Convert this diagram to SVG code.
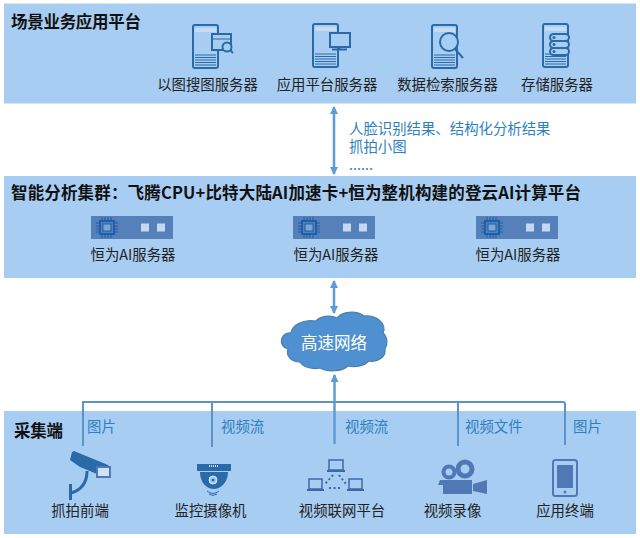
<svg xmlns="http://www.w3.org/2000/svg" width="640" height="538" viewBox="0 0 640 538">
<style>
text{font-family:"Noto Sans CJK SC","Liberation Sans",sans-serif}
.panel{fill:#a8cdf2}
.t{font-size:16.500px;font-weight:700;fill:#111}
.l{font-size:14.400px;fill:#222;text-anchor:middle}
.b{font-size:14.400px;fill:#2e7fbf}
.ic{fill:none;stroke:#2a6aa8;stroke-width:2}
.f{fill:#2a6aa8}
.f2{fill:#5078b4}
.wire{fill:none;stroke:#5d94c6;stroke-width:2}
.dbl{fill:none;stroke:#5f9bd3;stroke-width:2.500}
</style>
<defs>
<marker id="ah" viewBox="0 0 8 8" refX="7" refY="4" markerWidth="8" markerHeight="8" orient="auto-start-reverse" markerUnits="userSpaceOnUse"><path d="M0 0L8 4L0 8Z" fill="#5f9bd3"/></marker>
<g id="srv">
<rect x="1" y="1" width="25" height="43" rx="2" class="ic"/>
<rect x="3" y="4" width="21" height="4" fill="#c4dcf4"/>
<path d="M3 31H24M3 33.500H24M3 36H24M3 38.500H24M3 41H24" stroke="#2a6aa8" stroke-width="1" fill="none"/>
</g>
<g id="chip">
<rect width="82" height="23" fill="#5580ba"/>
<rect x="9" y="5" width="14" height="13" fill="none" stroke="#1d5fa8" stroke-width="2"/>
<rect x="12" y="8" width="8" height="7" fill="#7fa4d6" stroke="#1d5fa8"/>
<path d="M5 7H9M5 10H9M5 13H9M5 16H9M23 7H27M23 10H27M23 13H27M23 16H27M11 1V5M14 1V5M17 1V5M20 1V5M11 18V22M14 18V22M17 18V22M20 18V22" stroke="#1d5fa8" fill="none"/>
<rect x="50" y="7.500" width="8" height="8" fill="#c5d8f2"/>
<rect x="66" y="7.500" width="8" height="8" fill="#c5d8f2"/>
</g>
</defs>

<g id="connectors">
<path class="dbl" d="M334 107V174" marker-start="url(#ah)" marker-end="url(#ah)"/>
<path class="dbl" d="M334 281V313" marker-start="url(#ah)" marker-end="url(#ah)"/>
</g>

<g id="platform">
<rect class="panel" x="4" y="3.500" width="632" height="100"/>
<text class="t" x="11" y="28" textLength="130">场景业务应用平台</text>
<g id="srv-search"><use href="#srv" x="192" y="24"/>
<path d="M212 34H231V50H212Z" fill="#a8cdf2" stroke="#2a6aa8" stroke-width="2"/><path d="M212 39H231" stroke="#2a6aa8"/><circle cx="227" cy="47" r="4.500" fill="#a8cdf2" stroke="#2a6aa8" stroke-width="2"/><path d="M230 50L233 53" stroke="#2a6aa8" stroke-width="2"/>
<text class="l" x="207.500" y="90">以图搜图服务器</text></g>
<g id="srv-app"><use href="#srv" x="312" y="23"/>
<rect x="330" y="33" width="20" height="14" fill="#a8cdf2" stroke="#2a6aa8" stroke-width="2"/><path d="M339.500 47V49M332 49.500H347" stroke="#2a6aa8" stroke-width="2"/>
<text class="l" x="327" y="90">应用平台服务器</text></g>
<g id="srv-data"><use href="#srv" x="431" y="24"/>
<circle cx="449" cy="42" r="9" fill="#a8cdf2" stroke="#2a6aa8" stroke-width="2"/><path d="M455 49L463 58" stroke="#2a6aa8" stroke-width="2"/>
<text class="l" x="447.500" y="90">数据检索服务器</text></g>
<g id="srv-store"><use href="#srv" x="542" y="23"/>
<g fill="#a8cdf2" stroke="#2a6aa8" stroke-width="2"><rect x="550" y="34" width="19" height="7" rx="3.500"/><rect x="550" y="41" width="19" height="7" rx="3.500"/><rect x="550" y="48" width="19" height="7" rx="3.500"/></g>
<circle cx="554" cy="37.500" r="1.500" class="f"/><circle cx="554" cy="44.500" r="1.500" class="f"/><circle cx="554" cy="51.500" r="1.500" class="f"/>
<text class="l" x="557" y="90">存储服务器</text></g>
</g>

<g id="results">
<text class="b" x="349" y="134">人脸识别结果、结构化分析结果</text>
<text class="b" x="349" y="152">抓拍小图</text>
<text class="b" x="349" y="170">......</text>
</g>

<g id="cluster">
<rect class="panel" x="4" y="176" width="632" height="102"/>
<text class="t" x="11" y="199" textLength="570">智能分析集群：飞腾CPU+比特大陆AI加速卡+恒为整机构建的登云AI计算平台</text>
<g id="ai1"><use href="#chip" x="91" y="216"/><text class="l" x="133" y="260">恒为AI服务器</text></g>
<g id="ai2"><use href="#chip" x="293" y="216"/><text class="l" x="336" y="260">恒为AI服务器</text></g>
<g id="ai3"><use href="#chip" x="476" y="216"/><text class="l" x="518" y="260">恒为AI服务器</text></g>
</g>

<g id="collect">
<rect class="panel" x="4" y="411" width="632" height="123"/>
<text class="t" x="14" y="437" textLength="49">采集端</text>
<text class="b" x="87" y="432">图片</text>
<text class="b" x="221" y="432">视频流</text>
<text class="b" x="345" y="432">视频流</text>
<text class="b" x="465" y="432">视频文件</text>
<text class="b" x="573" y="432">图片</text>
<g id="cam"><path d="M72 452L70 460L80 467L97 474V467H109L108 465L74 451Z" class="f"/><rect x="97" y="467" width="13" height="10" fill="#cfe2f6" stroke="#5078b4" stroke-width="2"/><path d="M87 471C87 483 81 490 71 493" fill="none" stroke="#2a6aa8" stroke-width="3"/><path d="M70.500 484V500" stroke="#2a6aa8" stroke-width="3"/>
<text class="l" x="80" y="516">抓拍前端</text></g>
<g id="dome"><path d="M197 464H231V471H197Z" class="f"/><path d="M209 466H219" stroke="#cfe2f6" stroke-width="2" stroke-dasharray="1 1"/><path d="M200 472H228C228 483 220 489 214 489C207 489 200 483 200 472Z" class="f"/><circle cx="213" cy="480" r="4" fill="#a8cdf2" stroke="#cfe2f6"/><circle cx="213" cy="480" r="1.500" class="f"/><path d="M207 491Q213 496 219 491M209 494Q213 497 217 494" fill="none" stroke="#2a6aa8"/>
<text class="l" x="210.500" y="516">监控摄像机</text></g>
<g id="net"><g fill="none" stroke="#3c6aa8" stroke-width="1.500"><rect x="329" y="460" width="14" height="10"/><rect x="309" y="479" width="13" height="10"/><rect x="349" y="479" width="13" height="10"/></g>
<path d="M327 471H345M307 490H324M347 490H364" stroke="#3c6aa8" stroke-width="2"/><path d="M333 475L325 484M339 475L346 484M329 488H342" stroke="#3c6aa8" stroke-width="2" stroke-dasharray="2 2.500" fill="none"/>
<text class="l" x="342" y="516">视频联网平台</text></g>
<g id="film"><circle cx="449" cy="472" r="5.500" fill="none" stroke="#5078b4" stroke-width="4"/><circle cx="465" cy="469" r="7" fill="none" stroke="#5078b4" stroke-width="5"/><path d="M440 480H472V494H443V485H438Z" class="f2"/><path d="M473 484L487 480V494L473 491Z" class="f2"/>
<text class="l" x="452.500" y="516">视频录像</text></g>
<g id="phone"><rect x="553" y="460" width="24" height="36" rx="2.500" fill="none" stroke="#5078b4" stroke-width="2"/><rect x="557" y="465" width="16" height="23" fill="#5078b4"/><circle cx="565" cy="492" r="1.500" class="f2"/>
<text class="l" x="565" y="516">应用终端</text></g>
</g>

<g id="wires">
<path class="wire" d="M83 446V402H563Q565 402 565 404V445M212 402V447M458 402V446"/>
<path class="dbl" d="M334.500 444V375" marker-end="url(#ah)"/>
</g>

<g id="cloud">
<path d="M288 349A8 8 0 0 1 291 333A20 14 0 0 1 316 321A14 9 0 0 1 337 318A16 10 0 0 1 364 316A18 13 0 0 1 383 333A9 11 0 0 1 385 349A13 11 0 0 1 369 361A18 12 0 0 1 348 366A18 10 0 0 1 320 368A16 10 0 0 1 300 362A12 10 0 0 1 288 349Z" fill="#4f90d0" stroke="#4a7eb0" stroke-width="1.200"/>
<text x="334" y="349" font-size="16.500" fill="#fff" text-anchor="middle">高速网络</text>
</g>
</svg>
